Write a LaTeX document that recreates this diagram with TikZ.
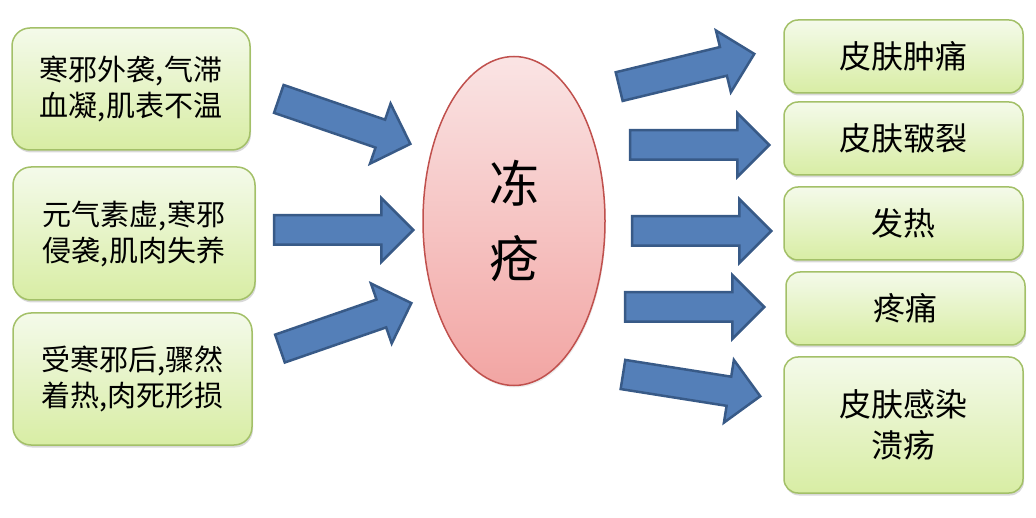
\documentclass[tikz,border=0pt]{standalone}
\usepackage{fontspec}
\setmainfont{Noto Sans CJK SC}
\usetikzlibrary{shapes.geometric,shapes.arrows,shadows}
\definecolor{boxtop}{RGB}{244,250,234}
\definecolor{boxbottom}{RGB}{216,237,164}
\definecolor{boxline}{RGB}{163,192,104}
\definecolor{ovaltop}{RGB}{250,228,228}
\definecolor{ovalbottom}{RGB}{242,165,163}
\definecolor{ovalline}{RGB}{192,80,77}
\definecolor{arrowfill}{RGB}{84,127,184}
\definecolor{arrowline}{RGB}{56,90,135}
\begin{document}
\begin{tikzpicture}[x=1pt,y=-1pt,
    cause/.style={draw=boxline,line width=1.5pt,rounded corners=18pt,
      top color=boxtop,bottom color=boxbottom,align=center,
      font=\fontsize{29}{36}\selectfont,
      drop shadow={shadow xshift=1pt,shadow yshift=-2.5pt,opacity=0.3}},
    effect/.style={cause,rounded corners=14pt,minimum width=239pt,
      font=\fontsize{32}{41}\selectfont},
    blockarrow/.style={single arrow,draw=arrowline,fill=arrowfill,
      line width=2.5pt,minimum height=139pt,inner xsep=0pt,inner ysep=13.5pt,
      single arrow head extend=17pt,anchor=tip}]
  \useasboundingbox (0,0) rectangle (1036,518);
  \node[cause,minimum width=238pt,minimum height=122pt] (waixi) at (131,89) {寒邪外袭,气滞\\血凝,肌表不温};
  \node[cause,minimum width=242pt,minimum height=133pt] (yuanqi) at (134,233.5) {元气素虚,寒邪\\侵袭,肌肉失养};
  \node[cause,minimum width=239pt,minimum height=132pt] (zhuore) at (132.5,379) {受寒邪后,骤然\\着热,肉死形损};
  \node[ellipse,draw=ovalline,line width=1.5pt,top color=ovaltop,bottom color=ovalbottom,
    minimum width=182pt,minimum height=329pt,inner sep=0pt,align=center,
    font=\fontsize{50}{75}\selectfont,
    drop shadow={shadow xshift=1pt,shadow yshift=-2pt,opacity=0.15}] (dongchuang) at (514,221) {冻\\疮};
  \node[effect,minimum height=73pt] (zhongtong) at (903.5,56.5) {皮肤肿痛};
  \node[effect,minimum height=73pt] (junlie) at (903.5,138.5) {皮肤皲裂};
  \node[effect,minimum height=73pt] (fare) at (903.5,223.5) {发热};
  \node[effect,minimum height=73pt] (tengtong) at (905.5,308.5) {疼痛};
  \node[effect,minimum height=136pt] (kuiyang) at (903.5,425) {皮肤感染\\溃疡};
  \node[blockarrow,rotate=-18.9] (in1) at (412,144.5) {};
  \node[blockarrow] (in2) at (415,230) {};
  \node[blockarrow,rotate=19.1] (in3) at (413,302.5) {};
  \node[blockarrow,rotate=13.6] (out1) at (756,53.5) {};
  \node[blockarrow] (out2) at (771,145) {};
  \node[blockarrow] (out3) at (773,231) {};
  \node[blockarrow] (out4) at (766,307) {};
  \node[blockarrow,rotate=-9] (out5) at (762,396.5) {};
\end{tikzpicture}
\end{document}
